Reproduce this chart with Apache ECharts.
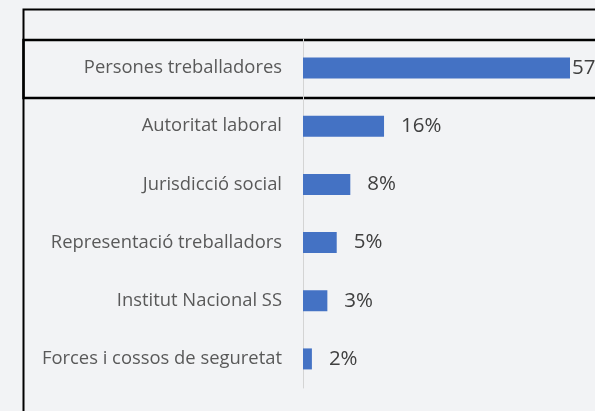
<!DOCTYPE html>
<html>
<head>
<meta charset="utf-8">
<script src="https://cdn.jsdelivr.net/npm/echarts@6/dist/echarts.min.js"></script>
<style>
  html, body { margin: 0; padding: 0; background: #f2f3f5; }
  #root { width: 595px; height: 411px; }
</style>
</head>
<body>
<div id="root"></div>
<script>
// categories, top to bottom
const categories = [
  "Persones treballadores",
  "Autoritat laboral",
  "Jurisdicció social",
  "Representació treballadors",
  "Institut Nacional SS",
  "Forces i cossos de seguretat"
];
// bar lengths as drawn in the picture (%)
const values = [57, 17.3, 10.1, 7.2, 5.2, 1.9];
// value labels as printed
const labels = ["57%", "16%", "8%", "5%", "3%", "2%"];

const chart = echarts.init(document.getElementById("root"));

chart.setOption({
  backgroundColor: "#f2f3f5",
  animation: false,
  grid: { left: 303, right: 25, top: 39, bottom: 23 },
  xAxis: {
    type: "value",
    min: 0,
    max: 57,
    show: false
  },
  yAxis: {
    type: "category",
    inverse: true,
    data: categories,
    axisLine: { lineStyle: { color: "#d4d4d4", width: 1 } },
    axisTick: { show: false },
    axisLabel: {
      margin: 21,
      color: "#595959",
      fontFamily: "Open Sans",
      fontSize: 18.4
    }
  },
  series: [{
    type: "bar",
    barWidth: 21,
    itemStyle: { color: "#4472c4" },
    data: values.map((v, i) => ({
      value: v,
      label: { distance: i === 0 ? 2 : 17 }
    })),
    label: {
      show: true,
      position: "right",
      color: "#404040",
      fontFamily: "Open Sans",
      fontSize: 20.5,
      formatter: p => labels[p.dataIndex]
    }
  }],
  graphic: [
    {
      type: "rect",
      shape: { x: 23.5, y: 9.5, width: 620, height: 460 },
      style: { fill: null, stroke: "#000", lineWidth: 2 }
    },
    {
      type: "rect",
      shape: { x: 23.5, y: 40, width: 620, height: 58 },
      style: { fill: null, stroke: "#000", lineWidth: 2.5 }
    }
  ]
});
</script>
</body>
</html>
